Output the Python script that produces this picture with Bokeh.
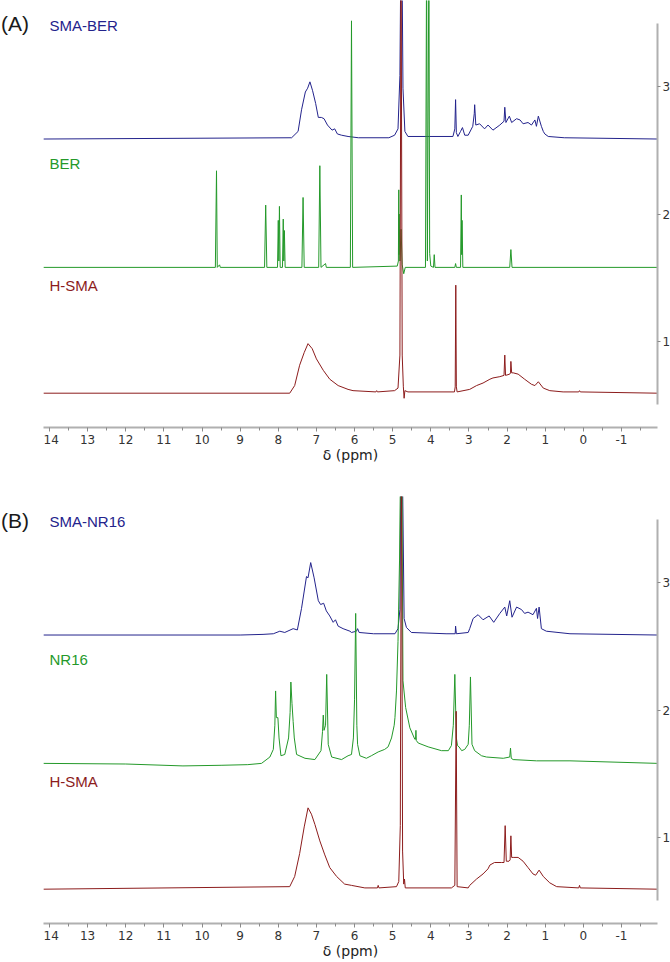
from bokeh.plotting import figure
from bokeh.models import Range1d, Label, FixedTicker, LinearAxis, ColumnDataSource, Div
from bokeh.layouts import column, row
from bokeh.embed import file_html
from bokeh.resources import INLINE

# ---------------- data ----------------
x_ticks = list(range(-1, 15))
y_ticks = [1, 2, 3]
panel_tags = ["(A)", "(B)"]
names_a = ["SMA-BER", "BER", "H-SMA"]
names_b = ["SMA-NR16", "NR16", "H-SMA"]
offsets = [2.59, 1.58, 0.59]          # stacking offset of each trace (top, middle, bottom)

# Panel A, SMA-BER
a1_ppm = [14.16, 7.65, 7.48, 7.39, 7.29, 7.23, 7.17, 7.10, 7.02, 6.95, 6.87, 6.80, 6.71, 6.59,
          6.52, 6.45, 6.34, 6.17, 5.90, 5.10, 4.95, 4.86, 4.81, 4.77, 4.73, 4.68, 4.60, 3.42,
          3.37, 3.35, 3.33, 3.29, 3.22, 3.17, 3.11, 3.02, 2.90, 2.86, 2.85, 2.82, 2.72, 2.59,
          2.50, 2.37, 2.19, 2.08, 2.06, 2.03, 1.94, 1.88, 1.75, 1.66, 1.58, 1.45, 1.36, 1.27,
          1.23, 1.18, 1.10, 1.05, 1.01, 0.92, 0.50, -1.95]
a1_int = [0.00, 0.01, 0.06, 0.23, 0.37, 0.40, 0.45, 0.38, 0.28, 0.17, 0.17, 0.16, 0.11, 0.07,
          0.08, 0.04, 0.03, 0.02, 0.01, 0.01, 0.03, 0.08, 0.50, 2.00, 0.40, 0.06, 0.02, 0.02,
          0.08, 0.31, 0.05, 0.02, 0.06, 0.09, 0.03, 0.03, 0.10, 0.20, 0.27, 0.11, 0.12, 0.08,
          0.11, 0.07, 0.11, 0.14, 0.25, 0.13, 0.18, 0.13, 0.16, 0.15, 0.12, 0.13, 0.11, 0.15,
          0.10, 0.18, 0.10, 0.06, 0.04, 0.02, 0.01, 0.00]
# Panel A, BER
a2_ppm = [14.16, 9.65, 9.62, 9.60, 9.54, 9.52, 8.36, 8.33, 8.30, 8.02, 8.00, 7.985, 7.97, 7.95,
          7.89, 7.87, 7.855, 7.84, 7.82, 7.38, 7.35, 7.32, 6.94, 6.91, 6.88, 6.76, 6.74, 6.11,
          6.08, 6.05, 4.88, 4.85, 4.84, 4.835, 4.83, 4.81, 4.78, 4.75, 4.71, 4.67, 4.14, 4.11,
          4.09, 4.05, 4.03, 4.00, 3.93, 3.91, 3.89, 3.37, 3.35, 3.33, 3.22, 3.20, 3.19, 3.18,
          3.16, 1.93, 1.90, 1.87, -1.95]
a2_int = [0.00, 0.00, 0.76, 0.00, 0.02, 0.00, 0.00, 0.49, 0.00, 0.00, 0.37, 0.05, 0.48, 0.00,
          0.00, 0.38, 0.05, 0.29, 0.00, 0.00, 0.55, 0.00, 0.00, 0.80, 0.00, 0.03, 0.00, 0.00,
          1.94, 0.00, 0.01, 0.05, 0.61, 0.10, 0.42, 0.05, 0.30, 0.02, -0.05, 0.00, 0.00, 2.50,
          0.05, 2.50, 0.11, 0.01, 0.00, 0.10, 0.00, 0.00, 0.03, 0.00, 0.00, 0.57, 0.10, 0.37,
          0.00, 0.00, 0.14, 0.00, 0.00]
# Panel A, H-SMA
a3_ppm = [14.16, 7.70, 7.57, 7.44, 7.32, 7.22, 7.11, 7.00, 6.82, 6.65, 6.43, 6.17, 6.04, 5.44,
          5.42, 5.40, 4.95, 4.86, 4.81, 4.78, 4.75, 4.72, 4.70, 4.68, 4.60, 3.38, 3.36, 3.345,
          3.33, 3.31, 2.98, 2.80, 2.63, 2.45, 2.37, 2.19, 2.08, 2.06, 2.04, 1.93, 1.91, 1.90,
          1.88, 1.84, 1.71, 1.54, 1.36, 1.27, 1.18, 1.05, 0.88, 0.53, 0.12, 0.10, 0.08, -1.95]
a3_int = [0.00, 0.00, 0.06, 0.22, 0.32, 0.39, 0.35, 0.27, 0.18, 0.11, 0.06, 0.03, 0.02, 0.01,
          0.02, 0.01, 0.02, 0.04, 0.30, 3.50, 0.30, 0.05, -0.04, 0.02, 0.01, 0.01, 0.05, 0.85,
          0.05, 0.01, 0.03, 0.06, 0.08, 0.11, 0.12, 0.13, 0.14, 0.30, 0.14, 0.15, 0.16, 0.25,
          0.16, 0.16, 0.15, 0.11, 0.07, 0.06, 0.09, 0.04, 0.02, 0.01, 0.01, 0.02, 0.01, 0.00]
# Panel B, SMA-NR16
b1_ppm = [14.16, 9.00, 8.40, 8.13, 7.96, 7.83, 7.61, 7.50, 7.39, 7.26, 7.22, 7.15, 7.06, 6.95,
          6.89, 6.81, 6.74, 6.65, 6.56, 6.50, 6.43, 6.30, 6.12, 6.08, 5.95, 5.92, 5.88, 5.50,
          4.94, 4.86, 4.81, 4.77, 4.70, 4.64, 4.51, 3.60, 3.36, 3.35, 3.33, 3.02, 2.98, 2.89,
          2.76, 2.63, 2.47, 2.35, 2.19, 2.06, 2.01, 1.93, 1.87, 1.75, 1.62, 1.54, 1.45, 1.32,
          1.23, 1.20, 1.16, 1.10, 0.97, 0.35, -1.95]
b1_int = [0.00, 0.00, 0.005, 0.01, 0.03, 0.02, 0.05, 0.04, 0.21, 0.46, 0.45, 0.57, 0.45, 0.27,
          0.24, 0.25, 0.19, 0.15, 0.10, 0.12, 0.07, 0.05, 0.03, 0.02, 0.03, 0.05, 0.02, 0.01,
          0.01, 0.05, 0.20, 2.00, 0.13, 0.06, 0.02, 0.01, 0.01, 0.07, 0.01, 0.02, 0.05, 0.13,
          0.16, 0.12, 0.15, 0.10, 0.17, 0.22, 0.15, 0.27, 0.14, 0.22, 0.20, 0.17, 0.18, 0.16,
          0.21, 0.13, 0.22, 0.05, 0.03, 0.01, 0.00]
# Panel B, NR16
b2_ppm = [14.16, 12.0, 10.5, 9.50, 8.80, 8.44, 8.22, 8.13, 8.09, 8.07, 8.05, 8.01, 7.98, 7.93,
          7.83, 7.73, 7.69, 7.67, 7.64, 7.61, 7.58, 7.52, 7.30, 7.04, 6.88, 6.84, 6.82, 6.80,
          6.76, 6.73, 6.69, 6.60, 6.34, 6.17, 6.08, 6.03, 6.00, 5.97, 5.94, 5.92, 5.86, 5.69,
          5.56, 5.38, 5.21, 5.12, 5.03, 4.96, 4.94, 4.90, 4.86, 4.82, 4.77, 4.73, 4.66, 4.55,
          4.42, 4.40, 4.39, 4.38, 4.33, 4.07, 3.72, 3.54, 3.46, 3.41, 3.37, 3.33, 3.30, 3.26,
          3.19, 3.11, 3.02, 2.99, 2.96, 2.92, 2.85, 2.67, 2.54, 2.10, 1.93, 1.91, 1.89, 1.84,
          1.23, 0.35, -1.95]
b2_int = [0.00, -0.005, -0.02, -0.015, -0.01, 0.00, 0.05, 0.11, 0.30, 0.57, 0.36, 0.36, 0.20, 0.06,
          0.07, 0.20, 0.40, 0.64, 0.47, 0.33, 0.20, 0.07, 0.04, 0.03, 0.10, 0.25, 0.38, 0.26,
          0.30, 0.70, 0.15, 0.05, 0.03, 0.06, 0.07, 0.20, 0.50, 1.18, 0.30, 0.15, 0.06, 0.04,
          0.06, 0.09, 0.11, 0.13, 0.20, 0.30, 0.36, 0.57, 0.96, 1.60, 3.00, 0.65, 0.44, 0.28,
          0.19, 0.19, 0.26, 0.18, 0.16, 0.13, 0.10, 0.10, 0.14, 0.30, 0.70, 0.20, 0.14, 0.13,
          0.10, 0.11, 0.15, 0.30, 0.68, 0.15, 0.10, 0.06, 0.05, 0.04, 0.05, 0.12, 0.04, 0.03,
          0.02, 0.02, 0.00]
# Panel B, H-SMA
b3_ppm = [14.16, 7.70, 7.57, 7.44, 7.32, 7.22, 7.13, 7.04, 6.91, 6.78, 6.65, 6.47, 6.26, 6.08,
          5.73, 5.40, 5.38, 5.36, 4.90, 4.84, 4.80, 4.77, 4.74, 4.71, 4.69, 4.67, 3.46, 3.37,
          3.335, 3.31, 3.02, 2.98, 2.80, 2.63, 2.50, 2.45, 2.33, 2.15, 2.08, 2.05, 2.02, 1.95,
          1.92, 1.90, 1.88, 1.84, 1.71, 1.58, 1.45, 1.32, 1.25, 1.16, 1.05, 0.88, 0.70, 0.12,
          0.10, 0.08, -1.95]
b3_int = [0.00, 0.02, 0.10, 0.28, 0.49, 0.64, 0.59, 0.51, 0.38, 0.27, 0.17, 0.10, 0.04, 0.03,
          0.01, 0.01, 0.03, 0.01, 0.02, 0.06, 0.50, 3.50, 0.30, 0.04, 0.08, 0.01, 0.01, 0.03,
          1.40, 0.02, 0.01, 0.03, 0.08, 0.12, 0.16, 0.19, 0.21, 0.21, 0.21, 0.50, 0.22, 0.22,
          0.23, 0.42, 0.25, 0.25, 0.25, 0.22, 0.17, 0.12, 0.11, 0.15, 0.10, 0.05, 0.02, 0.01,
          0.03, 0.01, 0.00]

series_a = [(a1_ppm, a1_int), (a2_ppm, a2_int), (a3_ppm, a3_int)]
series_b = [(b1_ppm, b1_int), (b2_ppm, b2_int), (b3_ppm, b3_int)]

# ---------------- styling ----------------
COLORS = ["#23238c", "#24992a", "#8c1c1c"]
LABEL_Y = [3.48, 2.40, 1.435]
AXIS_GRAY = "#b0b0b0"
TICK_FONT = "DejaVu Sans"
TEXT_FONT = "Liberation Sans"
TAG_W = 42


def make_panel(tag, names, series, top_border, tag_top):
    p = figure(frame_width=614, frame_height=427,
               x_range=Range1d(14.157, -1.945), y_range=Range1d(0.32, 3.68),
               output_backend="svg", toolbar_location=None,
               min_border_left=0, min_border_right=4, min_border_top=top_border,
               min_border_bottom=0, y_axis_location=None)
    p.outline_line_color = None
    p.xgrid.visible = False
    p.ygrid.visible = False
    p.background_fill_color = "white"

    for (ppm, inten), off, col in zip(series, offsets, COLORS):
        src = ColumnDataSource(dict(x=ppm, y=[v + off for v in inten]))
        p.line("x", "y", source=src, line_color=col, line_width=1.0)

    xa = p.xaxis[0]
    xa.ticker = FixedTicker(ticks=x_ticks, minor_ticks=[k + 0.5 for k in range(-2, 14)])
    xa.major_label_overrides = {-1: "-1"}
    xa.axis_line_color = AXIS_GRAY
    xa.axis_line_width = 2
    xa.major_tick_line_color = "#8a8a8a"
    xa.minor_tick_line_color = "#8a8a8a"
    xa.major_tick_in = 0
    xa.major_tick_out = 4
    xa.minor_tick_in = 0
    xa.minor_tick_out = 3
    xa.major_label_standoff = 3
    xa.major_label_text_font = TICK_FONT
    xa.major_label_text_font_size = "12px"
    xa.major_label_text_color = "#333333"
    xa.axis_label = "δ (ppm)"
    xa.axis_label_text_font = TICK_FONT
    xa.axis_label_text_font_size = "14px"
    xa.axis_label_text_font_style = "normal"
    xa.axis_label_text_color = "#222222"
    xa.axis_label_standoff = 0

    ya = LinearAxis(ticker=FixedTicker(ticks=y_ticks), bounds=(0.5, 3.5))
    ya.axis_line_color = AXIS_GRAY
    ya.axis_line_width = 2
    ya.major_tick_line_color = "#8a8a8a"
    ya.major_tick_in = 0
    ya.major_tick_out = 3
    ya.minor_tick_out = 0
    ya.minor_tick_in = 0
    ya.major_label_standoff = 2
    ya.major_label_text_font = TICK_FONT
    ya.major_label_text_font_size = "12px"
    ya.major_label_text_color = "#333333"
    p.add_layout(ya, "right")

    for name, ly, col in zip(names, LABEL_Y, COLORS):
        p.add_layout(Label(x=14.0, y=ly, text=name, text_font=TEXT_FONT,
                           text_font_size="15px", text_color=col,
                           text_baseline="middle", text_align="left"))

    tag_div = Div(text=tag, width=TAG_W, height=60, margin=(tag_top, 0, 0, 1),
                  styles={"font-family": TEXT_FONT, "font-size": "21px",
                          "color": "#1a1a1a", "line-height": "24px"})
    return row(tag_div, p, spacing=0)


pa = make_panel(panel_tags[0], names_a, series_a, 0, 12)
pb = make_panel(panel_tags[1], names_b, series_b, 31, 44)
layout = column(pa, pb, spacing=0)

open("out.html", "w").write(file_html(layout, INLINE))
